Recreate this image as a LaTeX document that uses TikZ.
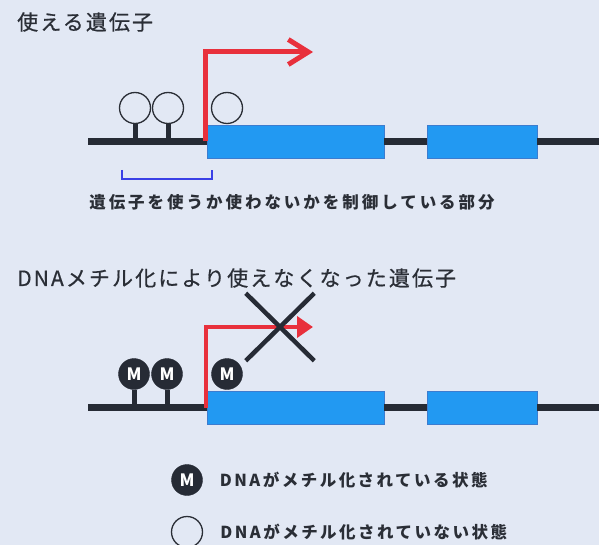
\documentclass[tikz,border=0pt]{standalone}
\usepackage{fontspec}
\newfontfamily\jp{Noto Sans CJK JP}
\usetikzlibrary{arrows.meta,shapes.misc,positioning}

\definecolor{bg}{HTML}{E2E8F4}
\definecolor{dnaline}{HTML}{262B35}
\definecolor{exonblue}{HTML}{2299F2}
\definecolor{exonedge}{HTML}{3C7CCF}
\definecolor{tssred}{HTML}{E8303C}
\definecolor{brkblue}{HTML}{3A40E6}
\definecolor{txt}{HTML}{2A2E36}

\begin{document}
\begin{tikzpicture}[x=1pt, y=-1pt, >=latex, font=\jp]
  \tikzstyle{exon}=[draw=exonedge, fill=exonblue, line width=0.8pt,
                    minimum height=33pt, inner sep=0pt]
  \tikzstyle{dna}=[draw=dnaline, line width=7pt]
  \tikzstyle{stem}=[draw=dnaline, line width=5pt]
  \tikzstyle{cpg}=[circle, draw=txt, line width=1.3pt, minimum size=31pt,
                   inner sep=0pt]
  \tikzstyle{mcpg}=[circle, draw=dnaline, fill=dnaline, minimum size=31pt,
                    inner sep=0pt, text=white, font=\jp\bfseries\fontsize{17}{17}\selectfont]
  \tikzstyle{tss}=[draw=tssred, line width=5pt]
  \tikzstyle{nogo}=[cross out, draw=dnaline, line width=4.5pt,
                    minimum width=64pt, minimum height=63pt]
  \tikzstyle{title}=[text=txt, inner sep=0pt, anchor=west,
                     font=\jp\fontsize{21}{21}\selectfont\addfontfeature{LetterSpace=10,FakeBold=0.6}]
  \tikzstyle{note}=[text=txt, inner sep=0pt,
                    font=\jp\bfseries\fontsize{16.5}{16.5}\selectfont\addfontfeature{LetterSpace=18}]
  \tikzstyle{legend}=[text=txt, inner sep=0pt, anchor=west,
                      font=\jp\bfseries\fontsize{16.5}{16.5}\selectfont\addfontfeature{LetterSpace=15}]

  \fill[bg] (0,0) rectangle (599,545);
  \useasboundingbox (0,0) rectangle (599,545);

  % ================= 上段: 使える遺伝子 =================
  \node[title] (t1) at (17,22) {使える遺伝子};
  \node[exon, minimum width=177pt] (e1a) at (295.5,141.5) {};
  \node[exon, minimum width=110pt] (e1b) at (482,141.5) {};
  \coordinate (s1) at (88,141.5);
  \coordinate (f1) at (603,141.5);
  \draw[dna] (s1) -- (e1a.west) (e1a.east) -- (e1b.west) (e1b.east) -- (f1);
  \node[cpg] (c1) at (135,108) {};
  \node[cpg] (c2) at (168,108) {};
  \node[cpg] (c3) at (227,108) {};
  \draw[stem] (c1.south) -- (c1.south |- s1);
  \draw[stem] (c2.south) -- (c2.south |- s1);
  % 転写開始の矢印
  \coordinate (p1) at (313,52);
  \draw[tss, -{Straight Barb[length=20pt, width=25pt]}]
       ([xshift=-1pt]e1a.west) |- (p1);
  % 制御部分の括弧
  \coordinate (b1) at (122,170);
  \coordinate (b2) at (212,170);
  \draw[brkblue, line width=2pt] (b1) -- ++(0,9) -| (b2);
  \node[note] (n1) at (292,202) {遺伝子を使うか使わないかを制御している部分};

  % ========== 下段: DNAメチル化により使えなくなった遺伝子 ==========
  \node[title] (t2) at (17,278) {DNAメチル化により使えなくなった遺伝子};
  \node[exon, minimum width=177pt] (e2a) at (295.5,407.5) {};
  \node[exon, minimum width=110pt] (e2b) at (482,407.5) {};
  \coordinate (s2) at (88,407.5);
  \coordinate (f2) at (603,407.5);
  \draw[dna] (s2) -- (e2a.west) (e2a.east) -- (e2b.west) (e2b.east) -- (f2);
  \node[mcpg] (m1) at (134,374) {M};
  \node[mcpg] (m2) at (167,374) {M};
  \node[mcpg] (m3) at (227,374) {M};
  \draw[stem] (m1.south) -- (m1.south |- s2);
  \draw[stem] (m2.south) -- (m2.south |- s2);
  \coordinate (p2) at (313,327);
  \draw[tss, line width=4pt, -{Triangle[length=16pt, width=21pt]}]
       ([xshift=-1pt]e2a.west) |- (p2);
  \node[nogo] (x2) at (280,327) {};

  % ================= 凡例 =================
  \node[mcpg] (lm) at (187,480) {M};
  \node[legend, right=17pt of lm] (l1) {DNAがメチル化されている状態};
  \node[cpg] (lo) at (187,532) {};
  \node[legend, right=17pt of lo] (l2) {DNAがメチル化されていない状態};
\end{tikzpicture}
\end{document}
